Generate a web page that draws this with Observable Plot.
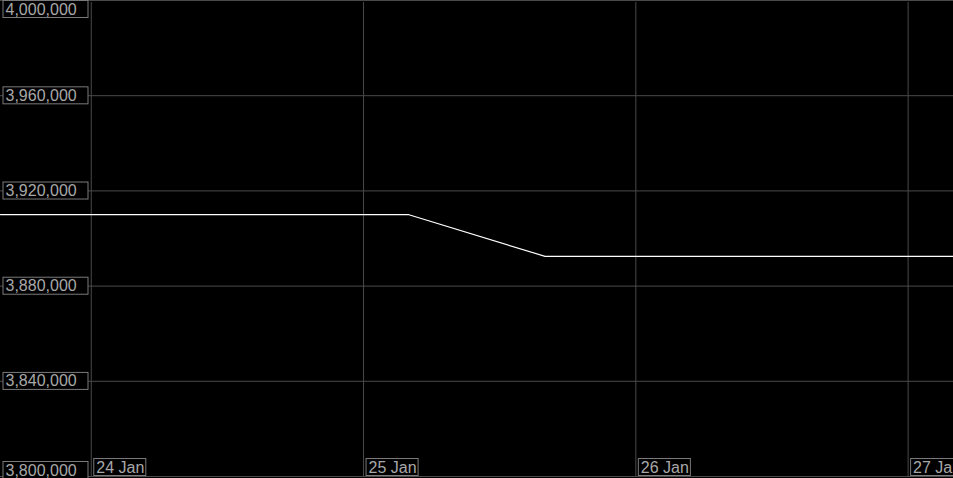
<!DOCTYPE html>
<html>
<head>
<meta charset="utf-8">
<script src="https://cdn.jsdelivr.net/npm/d3@7"></script>
<script src="https://cdn.jsdelivr.net/npm/@observablehq/plot@0.6"></script>
<style>
  html, body { margin: 0; padding: 0; background: #000; overflow: hidden; }
  #chart svg { display: block; }
</style>
</head>
<body>
<div id="chart"></div>
<script>
// ---- data ----
const times = ["2023-01-23T16:00Z", "2023-01-25T04:00Z", "2023-01-25T16:00Z", "2023-01-27T04:00Z"];
const values = [3910000, 3910000, 3892500, 3892500];
const xDomain = ["2023-01-23T16:00Z", "2023-01-27T04:00Z"];
const yDomain = [3800000, 4000000];
const yTicks = [3800000, 3840000, 3880000, 3920000, 3960000, 4000000];
const xTicks = ["2023-01-24T00:00Z", "2023-01-25T00:00Z", "2023-01-26T00:00Z", "2023-01-27T00:00Z"];
const xTickLabels = ["24 Jan", "25 Jan", "26 Jan", "27 Jan"];

const data = times.map((t, i) => ({date: new Date(t), value: values[i]}));
const xTickData = xTicks.map((t, i) => ({date: new Date(t), label: xTickLabels[i]}));
const fmt = d3.format(",");

const gridColor = "#4a4a4a";
const textColor = "#a8a8a8";
const boxColor = "#7a7a7a";
const H = 478;

const plot = Plot.plot({
  width: 953,
  height: H,
  marginTop: 0,
  marginRight: 0,
  marginBottom: 2,
  marginLeft: 0,
  style: {background: "#000", fontFamily: "'Liberation Sans', Arial, sans-serif", fontSize: "16px"},
  x: {type: "utc", domain: xDomain.map(d => new Date(d)), axis: null},
  y: {domain: yDomain, axis: null},
  marks: [
    Plot.ruleY(yTicks, {stroke: gridColor, strokeWidth: 1}),
    Plot.ruleX(xTickData, {x: "date", stroke: gridColor, strokeWidth: 1, y1: yDomain[0], y2: yDomain[1], insetBottom: -2}),
    Plot.line(data, {x: "date", y: "value", stroke: "#ffffff", strokeWidth: 1.2}),
    Plot.text(yTicks, {y: d => d, text: d => fmt(d), frameAnchor: "left", dx: 5, textAnchor: "start", lineAnchor: "middle", fill: textColor, className: "ylab"}),
    Plot.text(xTickData, {x: "date", text: "label", frameAnchor: "bottom", dx: 5, dy: -3, textAnchor: "start", lineAnchor: "middle", fill: textColor, className: "xlab"})
  ]
});

document.getElementById("chart").appendChild(plot);

// draw boxes behind tick labels (kept inside the picture)
function boxes(cls, fixed) {
  const g = plot.querySelector("g." + cls) || plot.querySelector("." + cls);
  if (!g) return;
  g.querySelectorAll("text").forEach(t => {
    const b = t.getBBox();
    const r = document.createElementNS("http://www.w3.org/2000/svg", "rect");
    const tr = t.getAttribute("transform") || "";
    const m = /translate\(([-\d.]+),\s*([-\d.]+)\)/.exec(tr);
    const ty = m ? +m[2] : 0;
    let cy = b.y + b.height / 2;
    const absCy = cy + ty;
    const clamped = Math.max(8.5, Math.min(H - 8.5, absCy));
    const shift = clamped - absCy;
    if (shift) t.setAttribute("transform", (tr + ` translate(0,${shift})`).trim());
    cy += shift;
    r.setAttribute("x", b.x - 2.5);
    r.setAttribute("width", fixed ? 85 : b.width + 4);
    r.setAttribute("y", cy - 8.5);
    r.setAttribute("height", 17);
    r.setAttribute("fill", "#000");
    r.setAttribute("stroke", boxColor);
    r.setAttribute("stroke-width", 1);
    if (tr) r.setAttribute("transform", tr);
    t.parentNode.insertBefore(r, t);
  });
}
boxes("ylab", true);
boxes("xlab", false);
</script>
</body>
</html>
